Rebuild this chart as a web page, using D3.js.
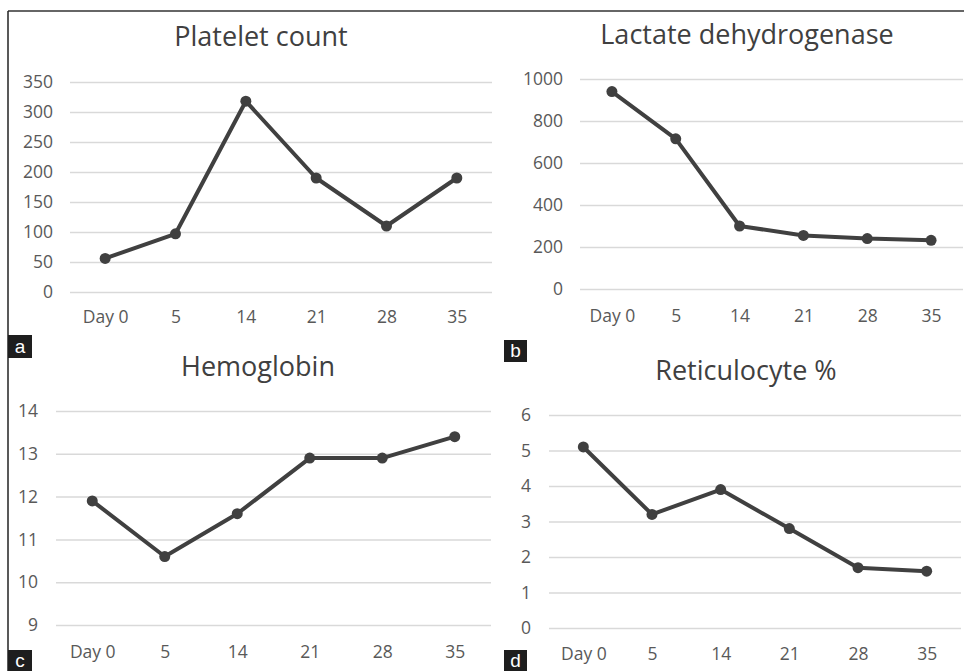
<!DOCTYPE html>
<html>
<head>
    <title>Lab values over time</title>
    <script type="text/javascript" src="https://d3js.org/d3.v7.min.js"></script>
    <style>
        body { margin: 0; background: #fff; }
        text { font-family: "Open Sans", sans-serif; }
    </style>
</head>
<body>
    <div id="div-svg"></div>

    <script type="text/javascript">
        // Data
        let days = ["Day 0", "5", "14", "21", "28", "35"];
        let platelet = [56, 97, 318, 190, 110, 190];
        let ldh = [940, 715, 300, 255, 240, 232];
        let hemoglobin = [11.9, 10.6, 11.6, 12.9, 12.9, 13.4];
        let reticulocyte = [5.1, 3.2, 3.9, 2.8, 1.7, 1.6];

        // tick labels for each y axis
        let plateletTicks = [0, 50, 100, 150, 200, 250, 300, 350];
        let ldhTicks = [0, 200, 400, 600, 800, 1000];
        let hemoglobinTicks = [9, 10, 11, 12, 13, 14];
        let reticulocyteTicks = [0, 1, 2, 3, 4, 5, 6];

        let titles = ["Platelet count", "Lactate dehydrogenase", "Hemoglobin", "Reticulocyte %"];
        let panelLetters = ["a", "b", "c", "d"];

        let width = 964;
        let height = 671;

        let svg = d3.select("#div-svg")
            .append("svg")
            .attr("id", "svg-1")
            .attr("width", width)
            .attr("height", height);

        // outer frame (top and left edge only)
        svg.append("line")
            .attr("x1", 8).attr("x2", width)
            .attr("y1", 11).attr("y2", 11)
            .attr("stroke", "#333").attr("stroke-width", 1.5);
        svg.append("line")
            .attr("x1", 8).attr("x2", 8)
            .attr("y1", 11).attr("y2", height)
            .attr("stroke", "#222").attr("stroke-width", 1.5);

        // layout of each panel
        let panels = [
            { values: platelet, ticks: plateletTicks, title: titles[0],
              x0: 70, x1: 492, yTop: 82, yBottom: 292, labelRight: 53,
              titleX: 261, titleY: 46, xLabelY: 323 },
            { values: ldh, ticks: ldhTicks, title: titles[1],
              x0: 580, x1: 963, yTop: 79, yBottom: 289, labelRight: 563,
              titleX: 747, titleY: 44, xLabelY: 322 },
            { values: hemoglobin, ticks: hemoglobinTicks, title: titles[2],
              x0: 56, x1: 491, yTop: 411, yBottom: 625, labelRight: 38,
              titleX: 258, titleY: 376, xLabelY: 658 },
            { values: reticulocyte, ticks: reticulocyteTicks, title: titles[3],
              x0: 549, x1: 961, yTop: 415, yBottom: 628, labelRight: 531,
              titleX: 746, titleY: 380, xLabelY: 660 }
        ];

        panels.forEach(function (p) { drawPanel(p); });

        // letter boxes
        let boxes = [
            { x: 8, y: 335, w: 24, h: 23 },
            { x: 504, y: 340, w: 23, h: 22 },
            { x: 8, y: 650, w: 24, h: 21 },
            { x: 504, y: 650, w: 23, h: 21 }
        ];
        boxes.forEach(function (b, i) {
            svg.append("rect")
                .attr("x", b.x).attr("y", b.y)
                .attr("width", b.w).attr("height", b.h)
                .attr("fill", "#1e1e1e");
            svg.append("text")
                .attr("x", b.x + b.w / 2)
                .attr("y", b.y + b.h / 2 + 6)
                .attr("text-anchor", "middle")
                .attr("fill", "#fff")
                .style("font-family", "'Liberation Sans', Arial, sans-serif")
                .attr("font-size", 19)
                .text(panelLetters[i]);
        });

        function drawPanel(p) {
            let g = svg.append("g");

            let xScale = d3.scalePoint()
                .domain(days)
                .range([p.x0, p.x1])
                .padding(0.5);

            let yScale = d3.scaleLinear()
                .domain([p.ticks[0], p.ticks[p.ticks.length - 1]])
                .range([p.yBottom, p.yTop]);

            // y axis with gridlines
            let yAxis = d3.axisLeft(yScale)
                .tickValues(p.ticks)
                .tickFormat(d3.format("d"))
                .tickSizeInner(-(p.x1 - p.x0))
                .tickSizeOuter(0)
                .tickPadding(p.x0 - p.labelRight);

            let yg = g.append("g")
                .attr("transform", "translate(" + p.x0 + ",0)")
                .call(yAxis);
            yg.select(".domain").remove();
            yg.selectAll("line")
                .attr("stroke", "#d9d9d9")
                .attr("stroke-width", 1.5);
            yg.selectAll("text")
                .style("font-family", "'Open Sans', sans-serif")
                .attr("font-size", 17.5)
                .attr("fill", "#595959");

            // x axis labels
            let xAxis = d3.axisBottom(xScale)
                .tickSize(0)
                .tickPadding(p.xLabelY - p.yBottom - 12.5);

            let xg = g.append("g")
                .attr("transform", "translate(0," + p.yBottom + ")")
                .call(xAxis);
            xg.select(".domain").remove();
            xg.selectAll("text")
                .style("font-family", "'Open Sans', sans-serif")
                .attr("font-size", 17.5)
                .attr("fill", "#595959");

            // title
            g.append("text")
                .attr("x", p.titleX)
                .attr("y", p.titleY)
                .attr("text-anchor", "middle")
                .attr("font-size", 27)
                .attr("fill", "#404040")
                .text(p.title);

            // line and markers
            let line = d3.line()
                .x(function (d, i) { return xScale(days[i]); })
                .y(function (d) { return yScale(d); });

            g.append("path")
                .datum(p.values)
                .attr("d", line)
                .attr("fill", "none")
                .attr("stroke", "#404040")
                .attr("stroke-width", 4)
                .attr("stroke-linejoin", "round");

            g.selectAll("circle")
                .data(p.values)
                .enter()
                .append("circle")
                .attr("cx", function (d, i) { return xScale(days[i]); })
                .attr("cy", function (d) { return yScale(d); })
                .attr("r", 5.5)
                .attr("fill", "#404040");
        }
    </script>
</body>
</html>
